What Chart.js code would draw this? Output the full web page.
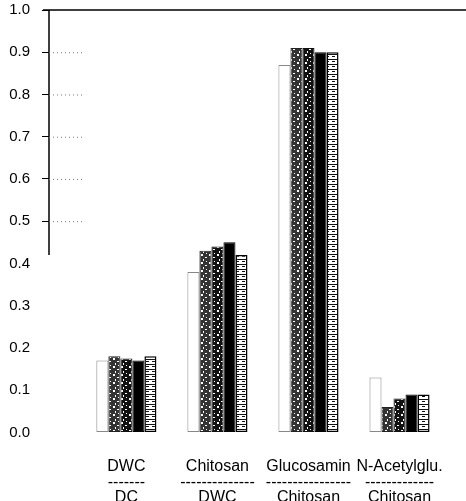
<!DOCTYPE html>
<html>
<head>
<meta charset="utf-8">
<script src="https://cdn.jsdelivr.net/npm/chart.js@4.4.1/dist/chart.umd.min.js"></script>
<style>
  html, body { margin: 0; padding: 0; background: #fff; overflow: hidden; }
  #wrap { position: relative; top: -11px; width: 466px; height: 512px; }
</style>
</head>
<body>
<div id="wrap"><canvas id="c"></canvas></div>
<script>
// categories (two-line labels, top / bottom of the ratio)
var topNames = ['DWC', 'Chitosan', 'Glucosamin', 'N-Acetylglu.'];
var bottomNames = ['DC', 'DWC', 'Chitosan', 'Chitosan'];
var dashes = ['-------', '--------------', '----------------', '-------------'];
var xPos = [1, 2, 3, 4];

// values, one array per bar of a group
var serie1 = [0.17, 0.38, 0.87, 0.13];
var serie2 = [0.18, 0.43, 0.91, 0.06];
var serie3 = [0.175, 0.44, 0.91, 0.08];
var serie4 = [0.17, 0.45, 0.90, 0.09];
var serie5 = [0.18, 0.42, 0.90, 0.09];

var yTicks = [0, 0.1, 0.2, 0.3, 0.4, 0.5, 0.6, 0.7, 0.8, 0.9, 1.0];

// motifs noir et blanc (scan)
function mottled(dark) {
  var p = document.createElement('canvas');
  p.width = 8; p.height = 8;
  var g = p.getContext('2d');
  g.fillStyle = dark;
  g.fillRect(0, 0, 8, 8);
  g.fillStyle = '#fff';
  g.fillRect(1, 1, 2, 2);
  g.fillRect(5, 4, 2, 1);
  g.fillRect(3, 6, 1, 2);
  g.fillRect(6, 0, 1, 1);
  return g.createPattern(p, 'repeat');
}
function stripes() {
  var p = document.createElement('canvas');
  p.width = 6; p.height = 5;
  var g = p.getContext('2d');
  g.fillStyle = '#fff';
  g.fillRect(0, 0, 6, 5);
  g.fillStyle = '#111';
  g.fillRect(0, 0, 6, 1);
  g.fillRect(2, 2, 3, 1);
  return g.createPattern(p, 'repeat');
}

function pts(arr) {
  return arr.map(function (v, i) { return { x: xPos[i], y: v }; });
}

var axisLines = {
  id: 'axisLines',
  afterDraw: function (chart) {
    var ctx = chart.ctx, a = chart.chartArea, y = chart.scales.y;
    ctx.save();
    ctx.strokeStyle = '#000';
    ctx.lineWidth = 1.5;
    ctx.beginPath();
    ctx.moveTo(a.left - 6, y.getPixelForValue(1));
    ctx.lineTo(a.right, y.getPixelForValue(1));
    ctx.moveTo(a.left, y.getPixelForValue(1));
    ctx.lineTo(a.left, y.getPixelForValue(0.42));
    ctx.stroke();
    // petits pointillés gauche
    ctx.lineWidth = 1;
    ctx.strokeStyle = '#777';
    ctx.setLineDash([1, 3]);
    [0.9, 0.8, 0.7, 0.6, 0.5].forEach(function (v) {
      ctx.beginPath();
      ctx.moveTo(a.left, y.getPixelForValue(v) + 0.5);
      ctx.lineTo(a.left + 35, y.getPixelForValue(v) + 0.5);
      ctx.stroke();
    });
    ctx.restore();
  }
};

var ctx = document.getElementById('c').getContext('2d');
var common = { borderSkipped: false, categoryPercentage: 0.66, barPercentage: 1.0 };

const myChart = new Chart(ctx, {
  type: 'bar',
  data: {
    datasets: [
      Object.assign({ data: pts(serie1), backgroundColor: '#fff', borderColor: '#888', borderWidth: 1 }, common),
      Object.assign({ data: pts(serie2), backgroundColor: mottled('#333'), borderColor: '#222', borderWidth: 1 }, common),
      Object.assign({ data: pts(serie3), backgroundColor: mottled('#111'), borderColor: '#111', borderWidth: 1 }, common),
      Object.assign({ data: pts(serie4), backgroundColor: '#000', borderColor: '#000', borderWidth: 1 }, common),
      Object.assign({ data: pts(serie5), backgroundColor: stripes(), borderColor: '#000', borderWidth: 1.5 }, common)
    ]
  },
  options: {
    responsive: true,
    maintainAspectRatio: false,
    animation: false,
    layout: { padding: { top: 0, right: 0, bottom: -23, left: 0 } },
    plugins: { legend: { display: false }, tooltip: { enabled: false } },
    scales: {
      x: {
        type: 'linear',
        offset: false,
        min: 0.15,
        max: 4.73,
        grid: { display: false },
        border: { display: false },
        afterBuildTicks: function (s) { s.ticks = xPos.map(function (v) { return { value: v }; }); },
        ticks: {
          padding: 19,
          autoSkip: false,
          maxRotation: 0,
          color: '#000',
          font: { family: 'Liberation Sans', size: 16, lineHeight: 0.95 },
          callback: function (v) {
            var i = xPos.indexOf(v);
            return i < 0 ? '' : [topNames[i], dashes[i], bottomNames[i]];
          }
        }
      },
      y: {
        min: 0,
        max: 1,
        afterFit: function (s) { s.width = 49; },
        afterBuildTicks: function (s) { s.ticks = yTicks.map(function (v) { return { value: v }; }); },
        border: { display: false },
        grid: {
          drawOnChartArea: false,
          tickLength: 7,
          color: function (c) { return c.tick && c.tick.value >= 0.5 ? '#000' : 'rgba(0,0,0,0)'; }
        },
        ticks: {
          padding: 12,
          color: '#000',
          font: { family: 'Liberation Sans', size: 15 },
          callback: function (v) { return v.toFixed(1); }
        }
      }
    }
  },
  plugins: [axisLines]
});
</script>
</body>
</html>
